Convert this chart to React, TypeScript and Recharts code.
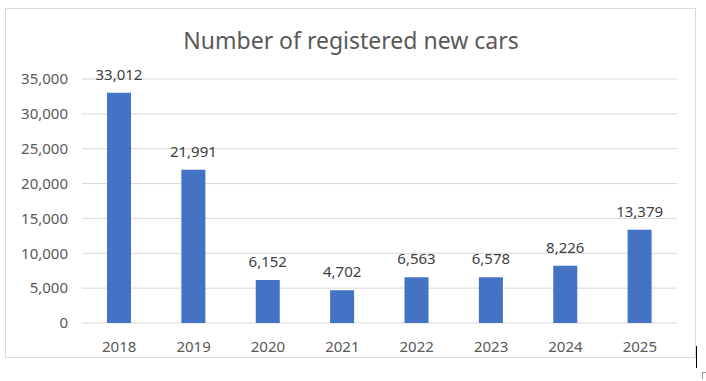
import React from "react";
import { BarChart, Bar, XAxis, YAxis, CartesianGrid, LabelList } from "recharts";

const years = ["2018", "2019", "2020", "2021", "2022", "2023", "2024", "2025"];
const registrations = [33012, 21991, 6152, 4702, 6563, 6578, 8226, 13379];
const yTicks = [0, 5000, 10000, 15000, 20000, 25000, 30000, 35000];

const data = years.map((y, i) => ({ year: y, value: registrations[i] }));
const fmt = (v: number) => v.toLocaleString("en-US");
const FONT = "'Noto Sans', sans-serif";

export default function App() {
  return (
    <div style={{ position: "absolute", left: 0, top: 0, width: 706, height: 381, background: "#fff", fontFamily: FONT }}>
      <div style={{ position: "absolute", left: 5, top: 8, width: 691, height: 350, border: "1px solid #d9d9d9", boxSizing: "border-box" }} />
      <div style={{ position: "absolute", left: 696, top: 346, width: 1, height: 22, background: "#000" }} />
      <div style={{ position: "absolute", left: 702, top: 372, width: 4, height: 6, borderLeft: "1px solid #999", borderTop: "1px solid #999" }} />
      <div style={{ position: "absolute", left: 0, width: 702, top: 25, textAlign: "center", fontSize: 23, color: "#595959", lineHeight: "30px" }}>
        Number of registered new cars
      </div>
      <BarChart
        width={706}
        height={381}
        data={data}
        margin={{ top: 79, right: 29, bottom: 28, left: 0 }}
        style={{ position: "absolute", left: 0, top: 0 }}
      >
        <CartesianGrid vertical={false} stroke="#d9d9d9" />
        <XAxis
          dataKey="year"
          height={30}
          axisLine={false}
          tickLine={false}
          tickMargin={12}
          tick={{ fill: "#595959", fontSize: 15, fontFamily: FONT }}
        />
        <YAxis
          width={82}
          domain={[0, 35000]}
          ticks={yTicks}
          axisLine={false}
          tickLine={false}
          tickMargin={8}
          tickFormatter={fmt}
          tick={{ fill: "#595959", fontSize: 15, fontFamily: FONT }}
        />
        <Bar dataKey="value" fill="#4472C4" barSize={24} isAnimationActive={false}>
          <LabelList dataKey="value" position="top" offset={13} formatter={(v: any) => fmt(Number(v))} fill="#404040" fontSize={15} fontFamily={FONT} />
        </Bar>
      </BarChart>
    </div>
  );
}
